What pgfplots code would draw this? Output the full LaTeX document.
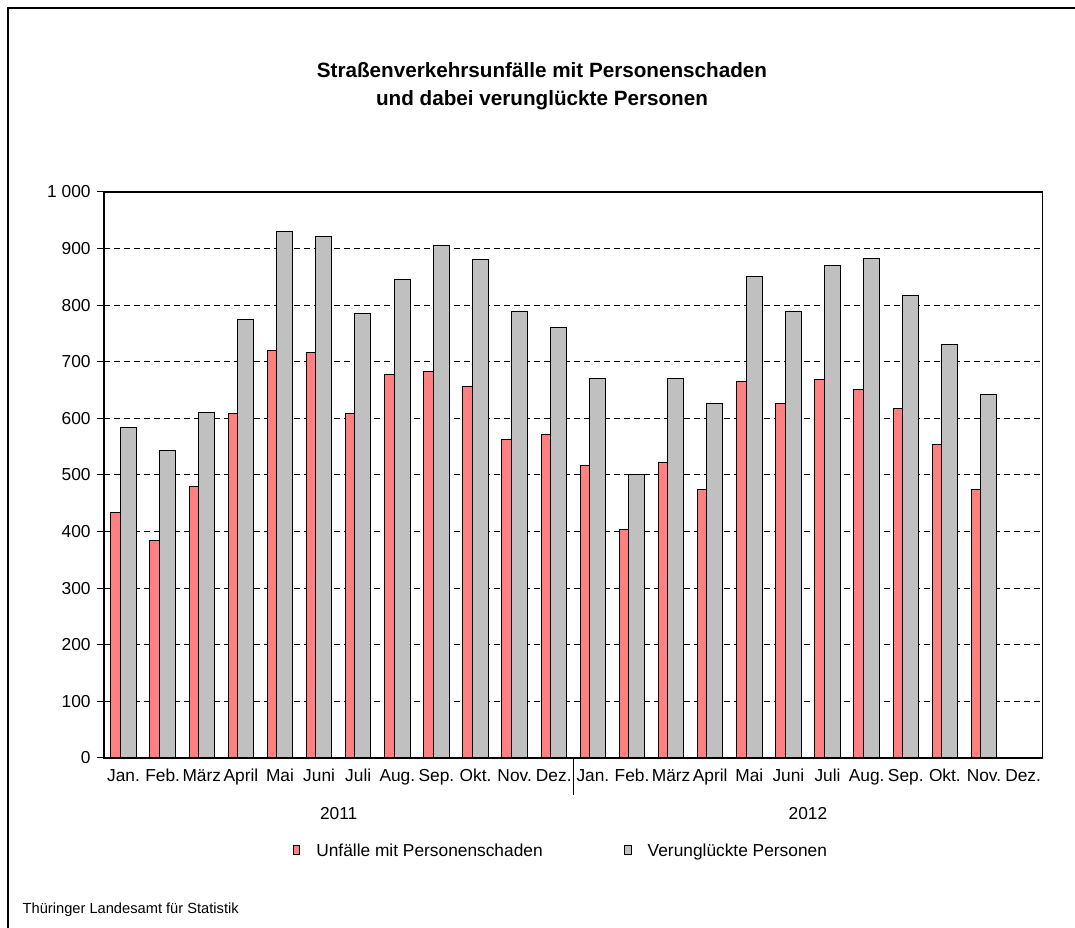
\documentclass[border=0pt]{standalone}
\usepackage{pgfplots}
\pgfplotsset{compat=1.18}
\usepackage{fontspec}
\setmainfont{Liberation Sans}
\definecolor{barred}{HTML}{FF8080}
\definecolor{bargray}{HTML}{C0C0C0}
\begin{document}
\begin{tikzpicture}
\useasboundingbox (0,0) rectangle (806.25pt,696pt);
\draw[line width=0.9pt] (6pt,0) -- (6pt,690pt) -- (806.25pt,690pt);
\node[font=\fontsize{15.5}{21}\selectfont\bfseries, align=center] at (406.5pt,631.5pt) {Straßenverkehrsunfälle mit Personenschaden\\und dabei verunglückte Personen};
\node[anchor=west, font=\fontsize{11}{13}\selectfont] at (13.5pt,13.5pt) {Thüringer Landesamt für Statistik};
\begin{axis}[
  at={(78pt,127.5pt)}, anchor=south west,
  width=704pt, height=424.5pt, scale only axis,
  xmin=-0.5, xmax=23.5, ymin=0, ymax=1000,
  ytick={0,100,...,1000},
  yticklabels={0,100,200,300,400,500,600,700,800,900,1 000},
  xtick={0,...,23},
  xticklabels={Jan.,Feb.,März,April,Mai,Juni,Juli,Aug.,Sep.,Okt.,Nov.,Dez.,Jan.,Feb.,März,April,Mai,Juni,Juli,Aug.,Sep.,Okt.,Nov.,Dez.},
  x tick label style={font=\fontsize{13}{15}\selectfont, text height=9.5pt, text depth=3pt, anchor=north, yshift=-4.5pt},
  y tick label style={font=\fontsize{13}{15}\selectfont, xshift=-1.5pt},
  /pgf/number format/assume math mode=true,
  ymajorgrids, grid style={black, dash pattern=on 4.5pt off 3pt, line width=0.75pt},
  axis line style={black, line width=0.9pt},
  tick style={black, line width=0.75pt},
  xtick style={draw=none},
  ytick align=outside, major tick length=5pt,
  ytick pos=left,
  legend style={at={(0.195,-0.164)}, anchor=west, draw=none, legend columns=2,
     font=\fontsize{13}{15}\selectfont, /tikz/every even column/.append style={column sep=58pt}},
  legend image code/.code={\draw[#1, line width=0.75pt] (0pt,-3pt) rectangle (5pt,4pt); \path (-1pt,0pt) (15pt,0pt);},
  clip=false,
]
\addplot[ybar, bar width=0.41, bar shift=-0.12, fill=barred, draw=black, line width=0.75pt] coordinates {
(0,434) (1,385) (2,480) (3,608) (4,720) (5,717) (6,608) (7,677) (8,683) (9,657) (10,563) (11,572)
(12,517) (13,403) (14,522) (15,474) (16,665) (17,626) (18,668) (19,651) (20,617) (21,553) (22,474)};
\addlegendentry{Unfälle mit Personenschaden}
\addplot[ybar, bar width=0.41, bar shift=0.12, fill=bargray, draw=black, line width=0.75pt] coordinates {
(0,584) (1,543) (2,611) (3,774) (4,931) (5,922) (6,786) (7,845) (8,905) (9,880) (10,789) (11,760)
(12,671) (13,500) (14,671) (15,626) (16,851) (17,789) (18,871) (19,882) (20,817) (21,731) (22,642)};
\addlegendentry{Verunglückte Personen}
\draw[black, line width=0.75pt] (axis cs:11.5,0) -- ([yshift=-28pt]axis cs:11.5,0);
\node[font=\fontsize{13}{15}\selectfont] at ([yshift=-41.5pt]axis cs:5.5,0) {2011};
\node[font=\fontsize{13}{15}\selectfont] at ([yshift=-41.5pt]axis cs:17.5,0) {2012};
\end{axis}
\end{tikzpicture}
\end{document}
